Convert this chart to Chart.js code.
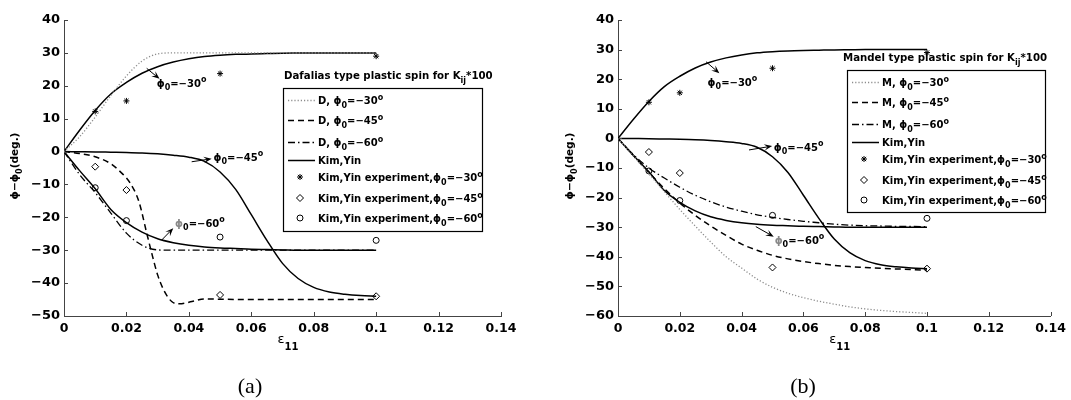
<!DOCTYPE html>
<html>
<head>
<meta charset="utf-8">
<script src="https://cdn.jsdelivr.net/npm/chart.js@4/dist/chart.umd.min.js"></script>
<style>
  body { margin: 0; background: #fff; width: 1071px; height: 400px; overflow: hidden; position: relative; }
  canvas { position: absolute; top: 0; }
  #chartA { left: 0; }
  #chartB { left: 536px; }
  .caption { position: absolute; top: 373px; font: 22px 'Liberation Serif', 'Times New Roman', serif; transform: translateX(-50%); }
</style>
</head>
<body>
<canvas id="chartA" width="536" height="400"></canvas>
<canvas id="chartB" width="535" height="400"></canvas>
<div class="caption" style="left:250px">(a)</div>
<div class="caption" style="left:803px">(b)</div>
<script>
const PHI = '\u03d5';
const MINUS = '\u2212';
const FONT = "'DejaVu Sans', 'Liberation Sans', Arial, sans-serif";

// strain (epsilon_11) sample points for the curves
const strain = [0, 0.005, 0.01, 0.015, 0.02, 0.025, 0.03, 0.035, 0.04, 0.045, 0.05,
                0.055, 0.06, 0.065, 0.07, 0.075, 0.08, 0.085, 0.09, 0.095, 0.1];

// Kim, Yin model (same in both panels)
const kimYin30 = [0, 6.5, 12.5, 17.5, 21, 23.8, 25.8, 27.2, 28.2, 28.9, 29.3,
                  29.55, 29.7, 29.8, 29.9, 29.95, 30, 30, 30, 30, 30];
const kimYin45 = [0, -0.05, -0.1, -0.2, -0.3, -0.45, -0.7, -1.1, -1.7, -3, -6.2,
                  -11.5, -19.2, -27, -34, -38.6, -41.3, -42.7, -43.4, -43.8, -44];
const kimYin60 = [0, -5.8, -11.3, -17.6, -21.6, -24.5, -26.5, -27.7, -28.5, -29, -29.3,
                  -29.5, -29.7, -29.8, -29.9, -30, -30, -30, -30, -30, -30];

// Dafalias type plastic spin (a)
const dafalias30 = [0, 4.5, 10.5, 17, 23, 27.5, 29.7, 30, 30, 30, 30,
                    30, 30, 30, 30, 30, 30, 30, 30, 30, 30];
const dafalias60 = [0, -7, -12.5, -18.7, -24.8, -28.5, -29.9, -30, -30, -30, -30,
                    -30, -30, -30, -30, -30, -30, -30, -30, -30, -30];
const strainD45 = [0, 0.005, 0.01, 0.015, 0.018, 0.021, 0.024, 0.0265, 0.028, 0.03, 0.032,
                   0.0345, 0.037, 0.041, 0.045, 0.05, 0.06, 0.07, 0.08, 0.09, 0.1];
const dafalias45 = [0, -0.6, -1.6, -3.7, -6.1, -9.3, -15.2, -24.8, -30.5, -37.5, -42.2,
                    -45.6, -46.3, -45.6, -44.8, -44.9, -45, -45, -45, -45, -45];

// Mandel type plastic spin (b)
const mandel30 = [0, -6, -12, -18, -24, -29.6, -35, -40, -43.8, -47.5, -50.3,
                  -52.3, -53.8, -55, -56, -56.9, -57.6, -58.1, -58.5, -58.8, -59.1];
const mandel45 = [0, -5.8, -11.5, -17, -21.8, -26, -29.6, -32.8, -35.7, -37.8, -39.5,
                  -40.7, -41.6, -42.3, -42.9, -43.3, -43.6, -43.9, -44.1, -44.3, -44.5];
const mandel60 = [0, -5.5, -10, -13.4, -16.5, -19.2, -21.4, -23.2, -24.6, -25.8, -26.7,
                  -27.4, -28, -28.5, -29, -29.3, -29.5, -29.6, -29.7, -29.75, -29.8];

// Kim, Yin experiments
const expStrain = [0.01, 0.02, 0.05, 0.1];
const exp30 = [12.2, 15.4, 23.7, 29];
const exp45 = [-4.6, -11.7, -43.6, -44];
const exp60 = [-11, -21, -26, -27];

const xTicks = [0, 0.02, 0.04, 0.06, 0.08, 0.1, 0.12, 0.14];

const STY = {
  dot: { color: '#8c8c8c', dash: [1.2, 2], width: 1.3 },
  dash: { color: '#000', dash: [6, 4], width: 1.5 },
  dashdot: { color: '#000', dash: [7, 3, 1.5, 3], width: 1.3 },
  solid: { color: '#000', dash: [], width: 1.5 }
};

function bold(s) { return `bold ${s}px ${FONT}`; }

function lineSet(xs, ys, sty) {
  return {
    data: xs.map((x, i) => ({ x: x, y: ys[i] })),
    showLine: true, fill: false, pointRadius: 0, pointHoverRadius: 0,
    borderColor: sty.color, borderDash: sty.dash, borderWidth: sty.width,
    cubicInterpolationMode: 'monotone'
  };
}

function markSet(xs, ys, style, r) {
  return {
    data: xs.map((x, i) => ({ x: x, y: ys[i] })),
    showLine: false, pointStyle: style, pointRadius: r, pointHoverRadius: r,
    borderColor: '#000', backgroundColor: '#fff', pointBorderWidth: 1
  };
}

function phiParts(pre, deg, phiColor) {
  const p = [];
  if (pre) p.push([pre, 'n']);
  p.push([PHI, 'n', phiColor]);
  p.push(['0', 'b']);
  p.push(['=' + MINUS + deg, 'n']);
  p.push(['o', 'p']);
  return p;
}

function drawRich(ctx, x, y, parts, size, align) {
  let w = 0;
  const segs = parts.map(([t, k, c]) => {
    const s = k === 'n' ? size : Math.round(size * 0.75);
    ctx.font = bold(s);
    const sw = ctx.measureText(t).width;
    w += sw;
    return { t, k, s, sw, c };
  });
  let cx = align === 'center' ? x - w / 2 : (align === 'right' ? x - w : x);
  ctx.textAlign = 'left';
  ctx.textBaseline = 'alphabetic';
  segs.forEach(g => {
    ctx.font = bold(g.s);
    ctx.fillStyle = g.c || '#000';
    const dy = g.k === 'b' ? size * 0.35 : (g.k === 'p' ? -size * 0.45 : 0);
    ctx.fillText(g.t, cx, y + dy);
    cx += g.sw;
  });
}

function drawMarker(ctx, kind, x, y) {
  ctx.save();
  ctx.setLineDash([]);
  ctx.strokeStyle = '#000';
  ctx.fillStyle = '#fff';
  ctx.lineWidth = 1;
  ctx.beginPath();
  if (kind === 'star') {
    for (let a = 0; a < 4; a++) {
      const ang = a * Math.PI / 4;
      ctx.moveTo(x - 3 * Math.cos(ang), y - 3 * Math.sin(ang));
      ctx.lineTo(x + 3 * Math.cos(ang), y + 3 * Math.sin(ang));
    }
    ctx.stroke();
  } else if (kind === 'rectRot') {
    ctx.moveTo(x, y - 3.5); ctx.lineTo(x + 3.5, y); ctx.lineTo(x, y + 3.5); ctx.lineTo(x - 3.5, y);
    ctx.closePath(); ctx.fill(); ctx.stroke();
  } else {
    ctx.arc(x, y, 3, 0, Math.PI * 2); ctx.fill(); ctx.stroke();
  }
  ctx.restore();
}

function drawArrow(ctx, x1, y1, x2, y2) {
  const ang = Math.atan2(y2 - y1, x2 - x1);
  const L = 8, W = 3.2;
  ctx.save();
  ctx.strokeStyle = '#000';
  ctx.fillStyle = '#000';
  ctx.lineWidth = 1;
  ctx.setLineDash([]);
  ctx.beginPath();
  ctx.moveTo(x1, y1);
  ctx.lineTo(x2 - L * 0.6 * Math.cos(ang), y2 - L * 0.6 * Math.sin(ang));
  ctx.stroke();
  ctx.beginPath();
  ctx.moveTo(x2, y2);
  ctx.lineTo(x2 - L * Math.cos(ang) + W * Math.sin(ang), y2 - L * Math.sin(ang) - W * Math.cos(ang));
  ctx.lineTo(x2 - L * 0.6 * Math.cos(ang), y2 - L * 0.6 * Math.sin(ang));
  ctx.lineTo(x2 - L * Math.cos(ang) - W * Math.sin(ang), y2 - L * Math.sin(ang) + W * Math.cos(ang));
  ctx.closePath();
  ctx.fill();
  ctx.restore();
}

// draws inward ticks, axis titles, legend and arrow notes
const decoPlugin = {
  id: 'deco',
  afterDraw(chart, args, opts) {
    const ctx = chart.ctx;
    const xs = chart.scales.x, ys = chart.scales.y;
    const area = chart.chartArea;
    ctx.save();
    ctx.strokeStyle = '#444';
    ctx.lineWidth = 1;
    ctx.beginPath();
    xs.ticks.forEach(t => {
      const px = Math.round(xs.getPixelForValue(t.value)) + 0.5;
      ctx.moveTo(px, area.bottom); ctx.lineTo(px, area.bottom - 4);
    });
    ys.ticks.forEach(t => {
      const py = Math.round(ys.getPixelForValue(t.value)) + 0.5;
      ctx.moveTo(area.left, py); ctx.lineTo(area.left + 4, py);
    });
    ctx.stroke();

    // x title
    const cx = (area.left + area.right) / 2;
    ctx.font = `13px ${FONT}`;
    ctx.fillStyle = '#000';
    ctx.textAlign = 'right';
    ctx.fillText('\u03b5', cx + 2, 343);
    ctx.font = bold(10);
    ctx.textAlign = 'left';
    ctx.fillText('11', cx + 2, 350);

    // y title
    ctx.save();
    ctx.translate(opts.yTitleX, 166);
    ctx.rotate(-Math.PI / 2);
    drawRich(ctx, 0, 4, [[PHI + MINUS + PHI, 'n'], ['0', 'b'], ['(deg.)', 'n']], 10.5, 'center');
    ctx.restore();

    // notes with arrows
    opts.notes.forEach(n => {
      drawArrow(ctx, xs.getPixelForValue(n.from[0]), ys.getPixelForValue(n.from[1]),
                xs.getPixelForValue(n.to[0]), ys.getPixelForValue(n.to[1]));
      drawRich(ctx, xs.getPixelForValue(n.at[0]), ys.getPixelForValue(n.at[1]) + 4,
               phiParts('', n.deg, n.phiColor), 10, 'left');
    });

    // legend
    const lg = opts.legend;
    drawRich(ctx, lg.titleX, lg.y - 9, lg.title, 10.2, 'left');
    ctx.fillStyle = '#fff';
    ctx.fillRect(lg.x, lg.y, lg.w, lg.h);
    ctx.strokeStyle = '#000';
    ctx.lineWidth = 1.2;
    ctx.setLineDash([]);
    ctx.strokeRect(lg.x + 0.5, lg.y + 0.5, lg.w, lg.h);
    const rows = [12, 32, 54, 72, 89, 110, 130];
    lg.items.forEach((it, i) => {
      const y = lg.y + rows[i];
      if (it.line) {
        ctx.save();
        ctx.strokeStyle = it.line.color;
        ctx.lineWidth = it.line.width;
        ctx.setLineDash(it.line.dash);
        ctx.beginPath();
        ctx.moveTo(lg.x + 5, y + 0.5); ctx.lineTo(lg.x + 32, y + 0.5);
        ctx.stroke();
        ctx.restore();
      } else {
        drawMarker(ctx, it.mark, lg.x + 17, y);
      }
      drawRich(ctx, lg.x + 35, y + 4, it.parts, 10, 'left');
    });
    ctx.restore();
  }
};

const expItems = [
  { mark: 'star', parts: phiParts('Kim,Yin experiment,', '30') },
  { mark: 'rectRot', parts: phiParts('Kim,Yin experiment,', '45') },
  { mark: 'circle', parts: phiParts('Kim,Yin experiment,', '60') }
];

function makeChart(id, yMin, lines, left, right, deco) {
  const canvas = document.getElementById(id);
  const datasets = lines.concat([
    markSet(expStrain, exp30, 'star', 3),
    markSet(expStrain, exp45, 'rectRot', 3.5),
    markSet(expStrain, exp60, 'circle', 3)
  ]);
  return new Chart(canvas.getContext('2d'), {
    type: 'scatter',
    data: { datasets: datasets },
    options: {
      responsive: false,
      animation: false,
      devicePixelRatio: 1,
      layout: { padding: { left: 0, top: 20, right: canvas.width - right, bottom: 0 } },
      plugins: { legend: { display: false }, tooltip: { enabled: false }, deco: deco },
      scales: {
        x: {
          type: 'linear', min: 0, max: 0.14,
          afterFit: s => { s.height = canvas.height - 316; },
          afterBuildTicks: s => { s.ticks = xTicks.map(v => ({ value: v })); },
          grid: { display: false, drawTicks: false },
          border: { display: true, color: '#444', width: 1 },
          ticks: {
            autoSkip: false, maxRotation: 0, padding: 5, color: '#000',
            font: { family: FONT, size: 12.5, weight: 'bold' },
            callback: v => String(+v.toFixed(2))
          }
        },
        y: {
          type: 'linear', min: yMin, max: 40,
          afterFit: s => { s.width = left; },
          grid: { display: false, drawTicks: false },
          border: { display: true, color: '#444', width: 1 },
          ticks: {
            stepSize: 10, padding: 4, color: '#000',
            font: { family: FONT, size: 13, weight: 'bold' },
            callback: v => v < 0 ? MINUS + Math.abs(v) : String(v)
          }
        }
      }
    },
    plugins: [decoPlugin]
  });
}

makeChart('chartA', -50, [
  lineSet(strain, dafalias30, STY.dot),
  lineSet(strainD45, dafalias45, STY.dash),
  lineSet(strain, dafalias60, STY.dashdot),
  lineSet(strain, kimYin30, STY.solid),
  lineSet(strain, kimYin45, STY.solid),
  lineSet(strain, kimYin60, STY.solid)
], 64, 501, {
  yTitleX: 14,
  notes: [
    { from: [0.0265, 25.3], to: [0.0306, 22.1], at: [0.0297, 20.9], deg: '30' },
    { from: [0.0409, -3.1], to: [0.0473, -2.2], at: [0.0479, -1.6], deg: '45' },
    { from: [0.0313, -26.9], to: [0.035, -23.3], at: [0.0356, -21.6], deg: '60', phiColor: '#888' }
  ],
  legend: {
    x: 283, y: 88, w: 199, h: 143, titleX: 284,
    title: [['Dafalias type plastic spin for K', 'n'], ['ij', 'b'], ['*100', 'n']],
    items: [
      { line: STY.dot, parts: phiParts('D, ', '30') },
      { line: STY.dash, parts: phiParts('D, ', '45') },
      { line: STY.dashdot, parts: phiParts('D, ', '60') },
      { line: STY.solid, parts: [['Kim,Yin', 'n']] }
    ].concat(expItems)
  }
});

makeChart('chartB', -60, [
  lineSet(strain, mandel30, STY.dot),
  lineSet(strain, mandel45, STY.dash),
  lineSet(strain, mandel60, STY.dashdot),
  lineSet(strain, kimYin30, STY.solid),
  lineSet(strain, kimYin45, STY.solid),
  lineSet(strain, kimYin60, STY.solid)
], 82, 518.5, {
  yTitleX: 33,
  notes: [
    { from: [0.0285, 25.9], to: [0.0328, 22], at: [0.029, 19.2], deg: '30' },
    { from: [0.0424, -3.9], to: [0.0499, -2.6], at: [0.0504, -2.8], deg: '45' },
    { from: [0.0446, -29.8], to: [0.0504, -33.2], at: [0.0507, -34.3], deg: '60', phiColor: '#888' }
  ],
  legend: {
    x: 311, y: 70, w: 198, h: 142, titleX: 307,
    title: [['Mandel type plastic spin for K', 'n'], ['ij', 'b'], ['*100', 'n']],
    items: [
      { line: STY.dot, parts: phiParts('M, ', '30') },
      { line: STY.dash, parts: phiParts('M, ', '45') },
      { line: STY.dashdot, parts: phiParts('M, ', '60') },
      { line: STY.solid, parts: [['Kim,Yin', 'n']] }
    ].concat(expItems)
  }
});
</script>
</body>
</html>
